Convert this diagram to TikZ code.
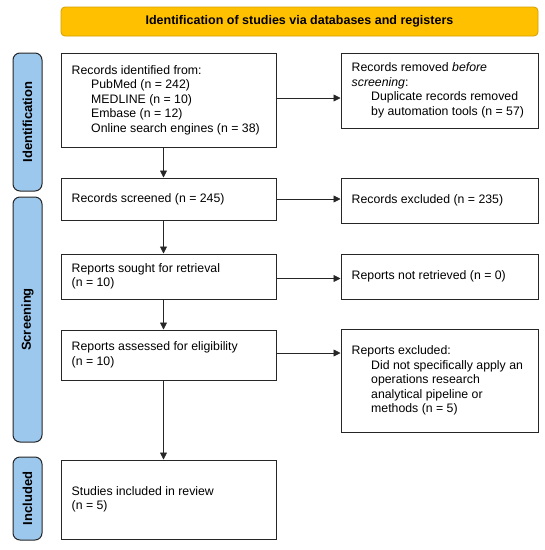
\documentclass[tikz,border=0pt]{standalone}
\usepackage{fontspec}
\setmainfont{Liberation Sans}
\usetikzlibrary{arrows.meta}
\definecolor{hdrfill}{HTML}{FFC000}
\definecolor{hdrline}{HTML}{D39E00}
\definecolor{barfill}{HTML}{9DC8EE}
\definecolor{ink}{HTML}{262626}
\tikzset{
  box/.style={draw=ink, line width=1pt, fill=white, inner sep=0pt},
  txt/.style={anchor=west, align=left, inner sep=0pt, font=\fontsize{12.3}{14.5}\selectfont},
  arr/.style={-{Triangle[length=7pt,width=7pt]}, line width=0.75pt, draw=ink},
  bar/.style={draw=ink, fill=barfill, rounded corners=7pt, line width=1pt, inner sep=0pt},
  bartext/.style={rotate=90, inner sep=0pt, font=\fontsize{13}{15}\selectfont\bfseries},
  hdr/.style={draw=hdrline, fill=hdrfill, rounded corners=4pt, line width=0.8pt, inner sep=0pt, font=\fontsize{12.5}{14}\selectfont\bfseries},
}
\newcommand\ind{\hspace*{19.5pt}}
\begin{document}
\begin{tikzpicture}[x=1pt,y=-1pt]
\useasboundingbox (0,0) rectangle (545,550);
% header
\node[hdr, minimum width=477pt, minimum height=29pt] (hdr) at (299.5,21.5) {Identification of studies via databases and registers};
% side bars
\node[bar, minimum width=29pt, minimum height=138pt] (idb) at (27.5,122) {};
\node[bartext] (idbt) at (idb.center) {Identification};
\node[bar, minimum width=29pt, minimum height=245pt] (scb) at (27.5,319.5) {};
\node[bartext] (scbt) at (scb.center) {Screening};
\node[bar, minimum width=29pt, minimum height=83pt] (inb) at (27.5,498.5) {};
\node[bartext] (inbt) at (inb.center) {Included};
% boxes
\node[box, minimum width=215pt, minimum height=94pt] (id) at (168.5,100) {};
\node[txt] (idt) at ([xshift=11pt]id.west) {Records identified from:\\\ind PubMed (n = 242)\\\ind MEDLINE (n = 10)\\\ind Embase (n = 12)\\\ind Online search engines (n = 38)};
\node[box, minimum width=197pt, minimum height=75pt] (rem) at (439.5,90.5) {};
\node[txt] (remt) at ([xshift=11pt]rem.west) {Records removed \textit{before}\\\textit{screening}:\\\ind Duplicate records removed\\\ind by automation tools (n = 57)};
\node[box, minimum width=215pt, minimum height=42pt] (scr) at (168.5,199) {};
\node[txt] (scrt) at ([xshift=11pt]scr.west) {Records screened (n = 245)};
\node[box, minimum width=197pt, minimum height=45pt] (exc) at (439.5,200.5) {};
\node[txt] (exct) at ([xshift=11pt]exc.west) {Records excluded (n = 235)};
\node[box, minimum width=215pt, minimum height=45pt] (sou) at (168.5,276.5) {};
\node[txt] (sout) at ([xshift=11pt]sou.west) {Reports sought for retrieval\\(n = 10)};
\node[box, minimum width=197pt, minimum height=45pt] (nrt) at (439.5,276.5) {};
\node[txt] (nrtt) at ([xshift=11pt]nrt.west) {Reports not retrieved (n = 0)};
\node[box, minimum width=215pt, minimum height=50pt] (ass) at (168.5,355) {};
\node[txt] (asst) at ([xshift=11pt]ass.west) {Reports assessed for eligibility\\(n = 10)};
\node[box, minimum width=197pt, minimum height=103pt] (rex) at (439.5,380.5) {};
\node[txt] (rext) at ([xshift=11pt]rex.west) {Reports excluded:\\\ind Did not specifically apply an\\\ind operations research\\\ind analytical pipeline or\\\ind methods (n = 5)};
\node[box, minimum width=215pt, minimum height=79pt] (inc) at (168.5,499.5) {};
\node[txt] (inct) at ([xshift=11pt]inc.west) {Studies included in review\\(n = 5)};
% arrows
\draw[arr] ([xshift=-5pt]id.south) -- ([xshift=-5pt]scr.north);
\draw[arr] ([xshift=-5pt]scr.south) -- ([xshift=-5pt]sou.north);
\draw[arr] ([xshift=-5pt]sou.south) -- ([xshift=-5pt]ass.north);
\draw[arr] ([xshift=-5pt]ass.south) -- ([xshift=-5pt]inc.north);
\draw[arr] ([yshift=2pt]id.east) -- ([yshift=2pt]id.east -| rem.west);
\draw[arr] (scr.east) -- (scr.east -| exc.west);
\draw[arr] ([yshift=-2pt]sou.east) -- ([yshift=-2pt]sou.east -| nrt.west);
\draw[arr] ([yshift=2pt]ass.east) -- ([yshift=2pt]ass.east -| rex.west);
\end{tikzpicture}
\end{document}
